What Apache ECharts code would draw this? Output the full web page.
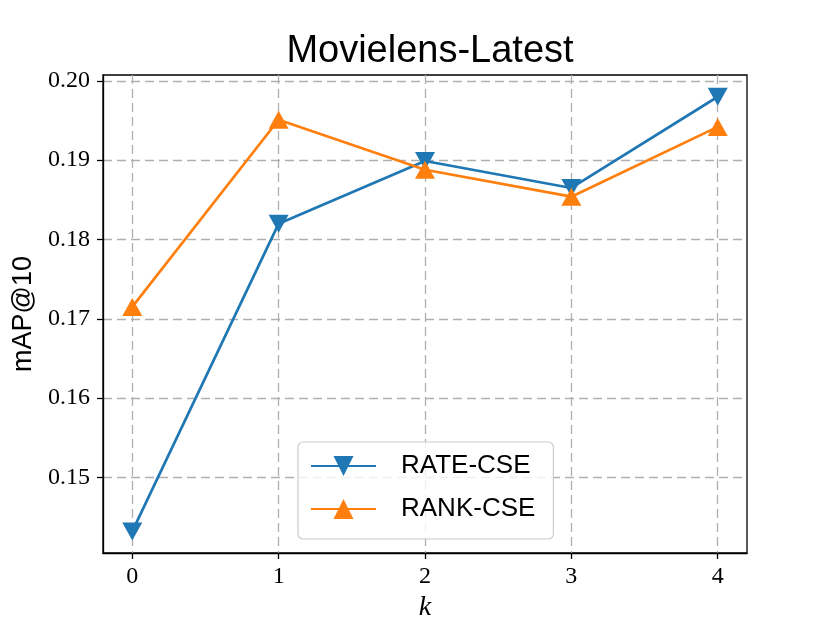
<!DOCTYPE html>
<html>
<head>
<meta charset="utf-8">
<script src="https://cdn.jsdelivr.net/npm/echarts@6/dist/echarts.min.js"></script>
<style>
  html, body { margin: 0; padding: 0; background: #fff; }
  #chart { width: 830px; height: 622px; }
</style>
</head>
<body>
<div id="chart"></div>
<script>
const kValues = [0, 1, 2, 3, 4];
const rateCse = [0.1432, 0.1820, 0.1899, 0.1865, 0.1980];
const rankCse = [0.1715, 0.1951, 0.1888, 0.1854, 0.1942];
const yTicks = [0.15, 0.16, 0.17, 0.18, 0.19, 0.20];
const xTicks = [0, 1, 2, 3, 4];

const toPairs = (ys) => kValues.map((k, i) => [k, ys[i]]);

const gridLine = { show: true, lineStyle: { color: '#b0b0b0', width: 1.3, type: [9, 5] } };
const tickStyle = { show: true, length: 6, lineStyle: { color: '#000', width: 1.3 } };
const serif = 'Liberation Serif';
const sans = 'Liberation Sans';

const chart = echarts.init(document.getElementById('chart'));
const option = {
  backgroundColor: '#fff',
  animation: false,
  title: {
    text: 'Movielens-Latest',
    left: 425,
    textAlign: 'center',
    top: 28,
    textStyle: { fontFamily: sans, fontSize: 38, fontWeight: 'normal', color: '#000' }
  },
  grid: {
    left: 103, right: 83, top: 75, bottom: 69,
    outerBoundsMode: 'none',
    show: true, borderColor: '#000', borderWidth: 1.3
  },
  xAxis: {
    type: 'value',
    min: -0.2,
    max: 4.2,
    name: 'k',
    nameLocation: 'middle',
    nameGap: 40,
    nameTextStyle: { fontFamily: serif, fontStyle: 'italic', fontSize: 28, color: '#000' },
    axisLine: { show: true, onZero: false, lineStyle: { color: '#000', width: 1.3 } },
    axisTick: Object.assign({ customValues: xTicks }, tickStyle),
    axisLabel: {
      customValues: xTicks,
      margin: 12,
      fontFamily: serif, fontSize: 24, color: '#000',
      formatter: (v) => String(v)
    },
    splitLine: gridLine
  },
  yAxis: {
    type: 'value',
    min: 0.14048,
    max: 0.20074,
    name: 'mAP@10',
    nameLocation: 'middle',
    nameGap: 63,
    nameTextStyle: { fontFamily: sans, fontSize: 27, color: '#000' },
    axisLine: { show: true, onZero: false, lineStyle: { color: '#000', width: 1.3 } },
    axisTick: Object.assign({ customValues: yTicks }, tickStyle),
    axisLabel: {
      customValues: yTicks,
      margin: 13,
      fontFamily: serif, fontSize: 24, color: '#000',
      formatter: (v) => v.toFixed(2)
    },
    splitLine: gridLine
  },
  legend: {
    orient: 'vertical',
    left: 298,
    top: 442,
    itemWidth: 65,
    itemHeight: 25,
    itemGap: 17,
    padding: [11, 18, 17, 12],
    backgroundColor: 'rgba(255,255,255,0.8)',
    borderColor: '#cccccc',
    borderWidth: 1.2,
    borderRadius: 5,
    textStyle: { fontFamily: sans, fontSize: 26, color: '#000', padding: [0, 0, 0, 20] },
    data: ['RATE-CSE', 'RANK-CSE']
  },
  series: [
    {
      name: 'RATE-CSE',
      type: 'line',
      data: toPairs(rateCse),
      symbol: 'triangle',
      symbolRotate: 180,
      symbolSize: [20, 18],
      lineStyle: { color: '#1f77b4', width: 2.7 },
      itemStyle: { color: '#1f77b4' },
      z: 3
    },
    {
      name: 'RANK-CSE',
      type: 'line',
      data: toPairs(rankCse),
      symbol: 'triangle',
      symbolSize: [20, 18],
      lineStyle: { color: '#ff7f0e', width: 2.7 },
      itemStyle: { color: '#ff7f0e' },
      z: 4
    }
  ]
};
option && chart.setOption(option);
</script>
</body>
</html>
